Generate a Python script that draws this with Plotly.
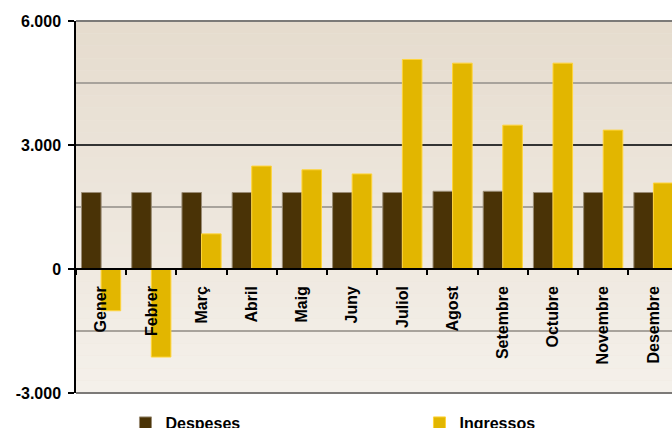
import plotly.graph_objects as go

months = ["Gener", "Febrer", "Març", "Abril", "Maig", "Juny", "Juliol",
          "Agost", "Setembre", "Octubre", "Novembre", "Desembre"]
despeses = [1850, 1850, 1850, 1850, 1850, 1850, 1850, 1880, 1880, 1850, 1850, 1850]
ingressos = [-1010, -2130, 850, 2490, 2400, 2300, 5070, 4980, 3480, 4980, 3360, 2080]
y_tickvals = [-3000, 0, 3000, 6000]
y_ticktext = ["-3.000", "0", "3.000", "6.000"]

FONT = "Liberation Sans, Arial, sans-serif"

fig = go.Figure()
fig.add_trace(go.Bar(
    x=months, y=despeses, name="Despeses",
    marker=dict(color="#4a3306", line=dict(color="#9a8c74", width=1)),
))
fig.add_trace(go.Bar(
    x=months, y=ingressos, name="Ingressos",
    marker=dict(color="#e2b600", line=dict(color="#ffd43a", width=1)),
))

# vertical background gradient of plot area
shapes = []
n = 30
top = (0xe6, 0xdc, 0xce)
bot = (0xf4, 0xf0, 0xea)
for i in range(n):
    t = i / (n - 1)
    c = tuple(round(bot[k] + (top[k] - bot[k]) * t) for k in range(3))
    shapes.append(dict(type="rect", xref="paper", yref="paper",
                       x0=0, x1=1, y0=i / n, y1=(i + 1) / n,
                       fillcolor="rgb(%d,%d,%d)" % c, line=dict(width=0),
                       layer="below"))
# frame edges (gray)
for yv in (0, 1):
    shapes.append(dict(type="line", xref="paper", yref="paper",
                       x0=0, x1=1, y0=yv, y1=yv,
                       line=dict(color="#7c7a78", width=2), layer="between"))

fig.update_layout(
    width=672, height=428,
    margin=dict(l=76, r=0, t=21, b=35, autoexpand=False),
    paper_bgcolor="white", plot_bgcolor="#ede6dc",
    barmode="group", bargap=0.22, bargroupgap=0,
    font=dict(family=FONT, size=16, color="black", weight="bold"),
    shapes=shapes,
    showlegend=True,
    legend=dict(orientation="h", x=0.083, y=-0.035, xanchor="left", yanchor="top",
                entrywidth=249, itemwidth=30,
                font=dict(family=FONT, size=16, color="black", weight="bold"),
                bgcolor="rgba(0,0,0,0)"),
    xaxis=dict(
        anchor="free", position=1/3,
        range=[-0.5, 11.37],
        showline=True, linecolor="black", linewidth=1.5,
        ticks="outside", ticklen=5, tickcolor="black", tickwidth=1.5,
        tickson="boundaries", tickangle=-90,
        ticklabelstandoff=10,
        tickfont=dict(family=FONT, size=16, color="black", weight="bold"),
        showgrid=False, zeroline=False,
    ),
    yaxis=dict(
        range=[-3000, 6000],
        tickvals=y_tickvals, ticktext=y_ticktext,
        showline=True, linecolor="black", linewidth=1.5,
        ticks="outside", ticklen=6, tickcolor="black", tickwidth=1.5,
        ticklabelstandoff=4,
        tickfont=dict(family=FONT, size=16, color="black", weight="bold"),
        showgrid=True, gridcolor="#333333", gridwidth=1.5,
        zeroline=False,
        minor=dict(dtick=1500, tick0=0, showgrid=True, gridcolor="#a8a39c",
                   gridwidth=1.5, ticks=""),
    ),
)

fig.write_html("out.html", config={"displayModeBar": False},
               post_script="document.body.style.margin='0';document.body.style.overflow='hidden';")
